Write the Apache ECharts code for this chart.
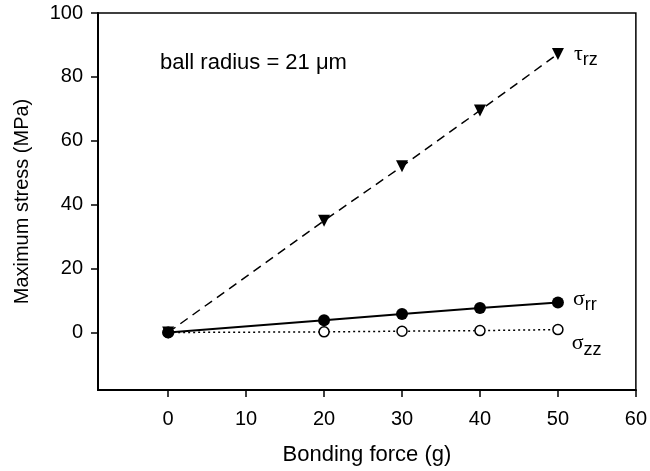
<!DOCTYPE html>
<html>
<head>
<meta charset="utf-8">
<script src="https://cdn.jsdelivr.net/npm/echarts@6/dist/echarts.min.js"></script>
<style>
  html, body { margin: 0; padding: 0; background: #fff; }
  #main { width: 650px; height: 471px; }
</style>
</head>
<body>
<div id="main"></div>
<script>
var force = [0, 20, 30, 40, 50];
var tauRz = [0, 35, 52, 69.5, 87.2];
var sigmaRr = [0, 3.8, 5.8, 7.7, 9.4];
var sigmaZz = [0, 0.2, 0.4, 0.6, 0.9];
var xTicks = [0, 10, 20, 30, 40, 50, 60];
var yTicks = [0, 20, 40, 60, 80, 100];

function pairs(xs, ys) {
  return xs.map(function (x, i) { return [x, ys[i]]; });
}

var font = "'Liberation Sans', Arial, sans-serif";

function endLabel(main, sub, offset) {
  return {
    show: true,
    position: 'right',
    offset: offset,
    formatter: function (p) {
      return p.dataIndex === force.length - 1 ? '{m|' + main + '}{s|' + sub + '}' : '';
    },
    rich: {
      m: { fontSize: 22, color: '#000', fontFamily: "'Liberation Serif', serif" },
      s: { fontSize: 18, color: '#000', fontFamily: font, padding: [12, 0, 0, 0] }
    }
  };
}

var chart = echarts.init(document.getElementById('main'));
chart.setOption({
  animation: false,
  backgroundColor: '#fff',
  textStyle: { fontFamily: font },
  grid: {
    left: 98, top: 13, right: 13, bottom: 81,
    show: true, borderColor: '#000', borderWidth: 1.5, backgroundColor: 'transparent'
  },
  xAxis: {
    type: 'value', min: -9, max: 60,
    name: 'Bonding force (g)', nameLocation: 'middle', nameGap: 54,
    nameTextStyle: { fontSize: 22, color: '#000', fontFamily: font },
    axisLine: { show: true, onZero: false, lineStyle: { color: '#000', width: 2 } },
    axisTick: { show: true, length: 7, customValues: xTicks, lineStyle: { color: '#000', width: 1.5 } },
    axisLabel: { customValues: xTicks, fontSize: 20, color: '#000', margin: 19, fontFamily: font },
    splitLine: { show: false }
  },
  yAxis: {
    type: 'value', min: -18, max: 100,
    name: 'Maximum stress (MPa)', nameLocation: 'middle', nameGap: 66,
    nameTextStyle: { fontSize: 20, color: '#000', fontFamily: font },
    axisLine: { show: true, onZero: false, lineStyle: { color: '#000', width: 2 } },
    axisTick: { show: true, length: 7, customValues: yTicks, lineStyle: { color: '#000', width: 1.5 } },
    axisLabel: { customValues: yTicks, fontSize: 20, color: '#000', margin: 15, fontFamily: font },
    splitLine: { show: false }
  },
  graphic: [{
    type: 'text', left: 160, top: 52,
    style: { text: 'ball radius = 21 \u03bcm', fontSize: 22, fill: '#000', fontFamily: font }
  }],
  series: [
    {
      name: 'tau_rz', type: 'line', data: pairs(force, tauRz),
      symbol: 'triangle', symbolRotate: 180, symbolSize: 12,
      itemStyle: { color: '#000' },
      lineStyle: { color: '#000', width: 1.5, type: [9, 6] },
      label: endLabel('\u03c4', 'rz', [5, 0]),
      z: 2
    },
    {
      name: 'sigma_zz', type: 'line', data: pairs(force, sigmaZz),
      symbol: 'circle', symbolSize: 10,
      itemStyle: { color: '#fff', borderColor: '#000', borderWidth: 1.5 },
      lineStyle: { color: '#000', width: 1.5, type: [2, 3] },
      label: endLabel('\u03c3', 'zz', [3, 14]),
      z: 3
    },
    {
      name: 'sigma_rr', type: 'line', data: pairs(force, sigmaRr),
      symbol: 'circle', symbolSize: 12,
      itemStyle: { color: '#000' },
      lineStyle: { color: '#000', width: 2 },
      label: endLabel('\u03c3', 'rr', [4, -3]),
      z: 4
    }
  ]
});
</script>
</body>
</html>
